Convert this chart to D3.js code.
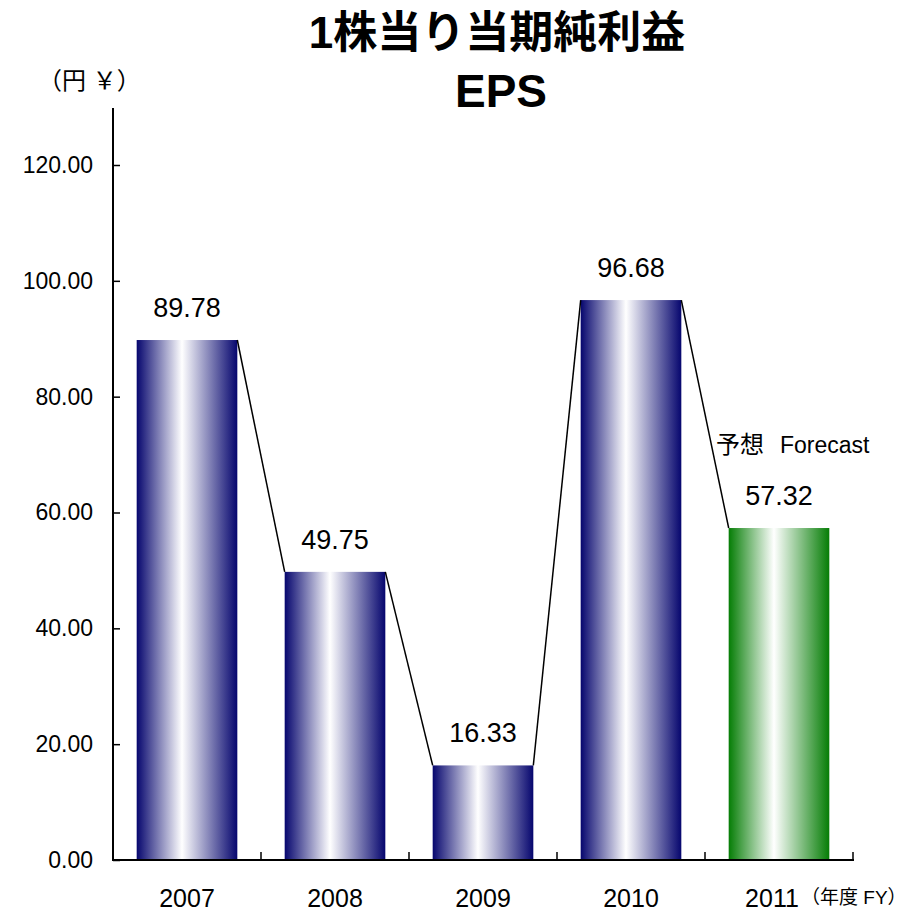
<!DOCTYPE html>
<html><head><meta charset="utf-8">
<script src="https://cdn.jsdelivr.net/npm/d3@7"></script>
<style>body{margin:0;background:#fff}text{font-family:Arial,"Liberation Sans","Noto Sans CJK JP",sans-serif}</style>
</head><body><svg id="c" width="920" height="913"></svg>
<script>
const categories = ["2007","2008","2009","2010","2011"];
const values = [89.78, 49.75, 16.33, 96.68, 57.32];
const labels = ["89.78","49.75","16.33","96.68","57.32"];
const forecast = [false,false,false,false,true];
const yTicks = [0,20,40,60,80,100,120];

const svg = d3.select("#c");
const x = d3.scaleBand().domain(categories).range([113,853]).paddingInner(0.32).paddingOuter(0.16);
const y = d3.scaleLinear().domain([0,120]).range([860,165]);

const defs = svg.append("defs");
function grad(id, col){
  const g = defs.append("linearGradient").attr("id",id).attr("x1","0%").attr("x2","100%").attr("y1","0").attr("y2","0");
  g.append("stop").attr("offset","0%").attr("stop-color",col);
  g.append("stop").attr("offset","45%").attr("stop-color","#ffffff");
  g.append("stop").attr("offset","100%").attr("stop-color",col);
}
grad("gb","#06066e");
grad("gg","#057d05");

// title
svg.append("text").attr("x",497).attr("y",48).attr("text-anchor","middle").attr("font-size",44).attr("font-weight","bold").text("1株当り当期純利益");
svg.append("text").attr("x",501).attr("y",107).attr("text-anchor","middle").attr("font-size",46).attr("font-weight","bold").text("EPS");
svg.append("text").attr("x",38).attr("y",89).attr("font-size",24).text("（円 ￥）");

// bars
svg.selectAll("rect.bar").data(categories).join("rect")
  .attr("x",d=>x(d)).attr("width",x.bandwidth())
  .attr("y",(d,i)=>y(values[i])).attr("height",(d,i)=>y(0)-y(values[i]))
  .attr("fill",(d,i)=>forecast[i]?"url(#gg)":"url(#gb)");

// connecting lines
for(let i=0;i<categories.length-1;i++){
  svg.append("line")
    .attr("x1",x(categories[i])+x.bandwidth()).attr("y1",y(values[i]))
    .attr("x2",x(categories[i+1])).attr("y2",y(values[i+1]))
    .attr("stroke","#000").attr("stroke-width",1.5);
}

// value labels
svg.selectAll("text.val").data(categories).join("text")
  .attr("x",d=>x(d)+x.bandwidth()/2).attr("y",(d,i)=>y(values[i])-23)
  .attr("text-anchor","middle").attr("font-size",27).text((d,i)=>labels[i]);

svg.append("text").attr("x",716).attr("y",453).attr("font-size",24).text("予想");
svg.append("text").attr("x",780).attr("y",453).attr("font-size",23).text("Forecast");

// y axis
const ya = d3.axisLeft(y).tickValues(yTicks).tickFormat(d3.format(".2f")).tickSize(-7).tickPadding(20);
const gy = svg.append("g").attr("transform","translate(113,0)").call(ya);
gy.select(".domain").remove();
gy.selectAll("text").attr("font-size",23).attr("font-family","Arial,'Liberation Sans',sans-serif");
gy.selectAll("line").attr("stroke-width",1.5);
svg.append("line").attr("x1",113).attr("x2",113).attr("y1",108).attr("y2",861).attr("stroke","#000").attr("stroke-width",2);

// x axis
svg.append("line").attr("x1",112).attr("x2",854).attr("y1",860).attr("y2",860).attr("stroke","#000").attr("stroke-width",2);
const step = x.step();
categories.forEach((d,i)=>{
  const bx = 113 + (i+1)*step;
  svg.append("line").attr("x1",bx).attr("x2",bx).attr("y1",860).attr("y2",852).attr("stroke","#000").attr("stroke-width",1.5);
});
svg.selectAll("text.xl").data(categories).join("text")
  .attr("x",(d,i)=>x(d)+x.bandwidth()/2-(i===4?7:0)).attr("y",907)
  .attr("text-anchor","middle").attr("font-size",25).text(d=>d);
svg.append("text").attr("x",801).attr("y",904).attr("font-size",19).text("（年度 FY）");
</script></body></html>
